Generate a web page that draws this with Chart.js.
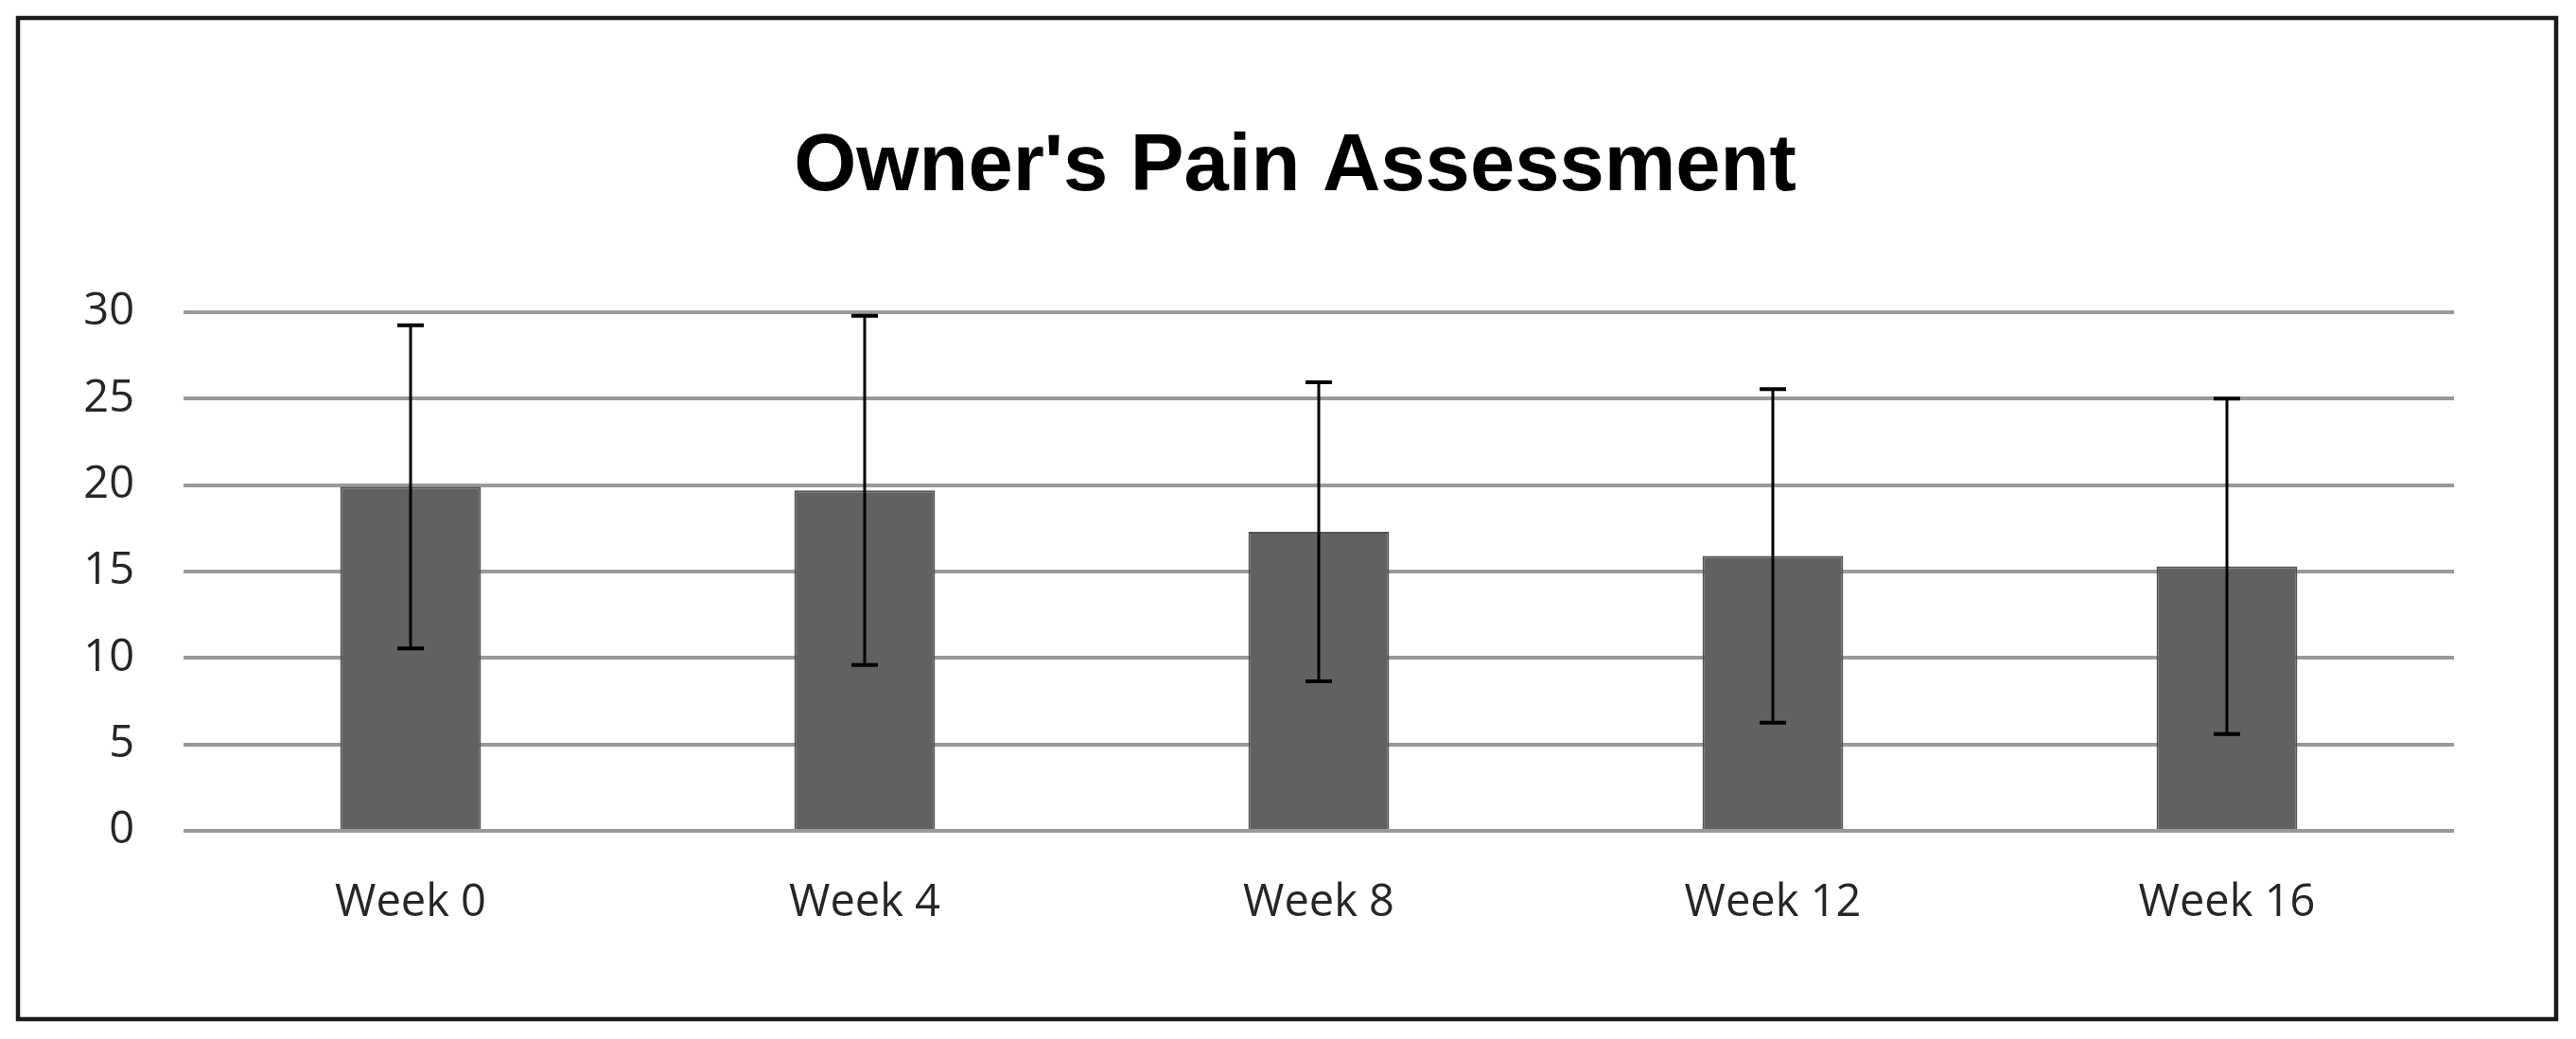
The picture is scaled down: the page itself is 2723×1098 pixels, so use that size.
<!DOCTYPE html>
<html>
<head>
<meta charset="utf-8">
<script src="https://cdn.jsdelivr.net/npm/chart.js@4.4.1/dist/chart.umd.min.js"></script>
<style>
  html, body { margin: 0; padding: 0; background: #ffffff; overflow: hidden; }
  #wrap { position: relative; width: 2723px; height: 1098px; }
</style>
</head>
<body>
<div id="wrap"><canvas id="c"></canvas></div>
<script>
const categories = ["Week 0", "Week 4", "Week 8", "Week 12", "Week 16"];
const meanScores = [19.9, 19.7, 17.3, 15.9, 15.3];
const errorSizes = [9.35, 10.1, 8.65, 9.65, 9.7];
const yTicks = [0, 5, 10, 15, 20, 25, 30];
const chartTitle = "Owner's Pain Assessment";

const frameBorder = {
  id: 'frameBorder',
  afterDraw(chart) {
    const ctx = chart.ctx;
    ctx.save();
    ctx.strokeStyle = '#1a1a1a';
    ctx.lineWidth = 4.5;
    ctx.strokeRect(19, 19, chart.width - 40, chart.height - 40);
    ctx.restore();
  }
};

const titleText = {
  id: 'titleText',
  afterDraw(chart) {
    const ctx = chart.ctx;
    ctx.save();
    ctx.fillStyle = '#000000';
    ctx.font = 'bold 85px "Liberation Sans"';
    ctx.textAlign = 'center';
    ctx.textBaseline = 'alphabetic';
    ctx.fillText(chartTitle, 1369, 201);
    ctx.restore();
  }
};

const errorBars = {
  id: 'errorBars',
  afterDatasetsDraw(chart) {
    const ctx = chart.ctx;
    const meta = chart.getDatasetMeta(0);
    const ys = chart.scales.y;
    ctx.save();
    ctx.strokeStyle = '#000000';
    meta.data.forEach((bar, i) => {
      const x = bar.x;
      const top = ys.getPixelForValue(meanScores[i] + errorSizes[i]);
      const bot = ys.getPixelForValue(meanScores[i] - errorSizes[i]);
      ctx.lineWidth = 3;
      ctx.beginPath();
      ctx.moveTo(x, top);
      ctx.lineTo(x, bot);
      ctx.stroke();
      ctx.lineWidth = 4;
      ctx.beginPath();
      ctx.moveTo(x - 14, top); ctx.lineTo(x + 14, top);
      ctx.moveTo(x - 14, bot); ctx.lineTo(x + 14, bot);
      ctx.stroke();
    });
    ctx.restore();
  }
};

new Chart(document.getElementById('c'), {
  type: 'bar',
  data: {
    labels: categories,
    datasets: [{
      data: meanScores,
      backgroundColor: '#616161',
      borderColor: '#525252',
      borderWidth: 2,
      barPercentage: 0.31,
      categoryPercentage: 1.0
    }]
  },
  options: {
    responsive: true,
    maintainAspectRatio: false,
    devicePixelRatio: 1,
    animation: false,
    layout: { padding: { left: 44, right: 129, top: 330, bottom: 70 } },
    plugins: {
      legend: { display: false },
      tooltip: { enabled: false },
      title: { display: false }
    },
    scales: {
      x: {
        afterFit(axis) { axis.height = 150; },
        grid: { display: false, drawTicks: false },
        border: { display: false },
        ticks: {
          color: '#262626',
          font: { family: 'Open Sans', size: 47 },
          padding: 48,
          maxRotation: 0
        }
      },
      y: {
        min: 0,
        max: 30,
        afterBuildTicks(axis) { axis.ticks = yTicks.map(v => ({ value: v })); },
        afterFit(axis) { axis.width = 150; },
        grid: { color: '#999999', lineWidth: 4, drawTicks: false },
        border: { display: false },
        ticks: {
          color: '#262626',
          font: { family: 'Open Sans', size: 47 },
          padding: 52
        }
      }
    }
  },
  plugins: [errorBars, titleText, frameBorder]
});
</script>
</body>
</html>
